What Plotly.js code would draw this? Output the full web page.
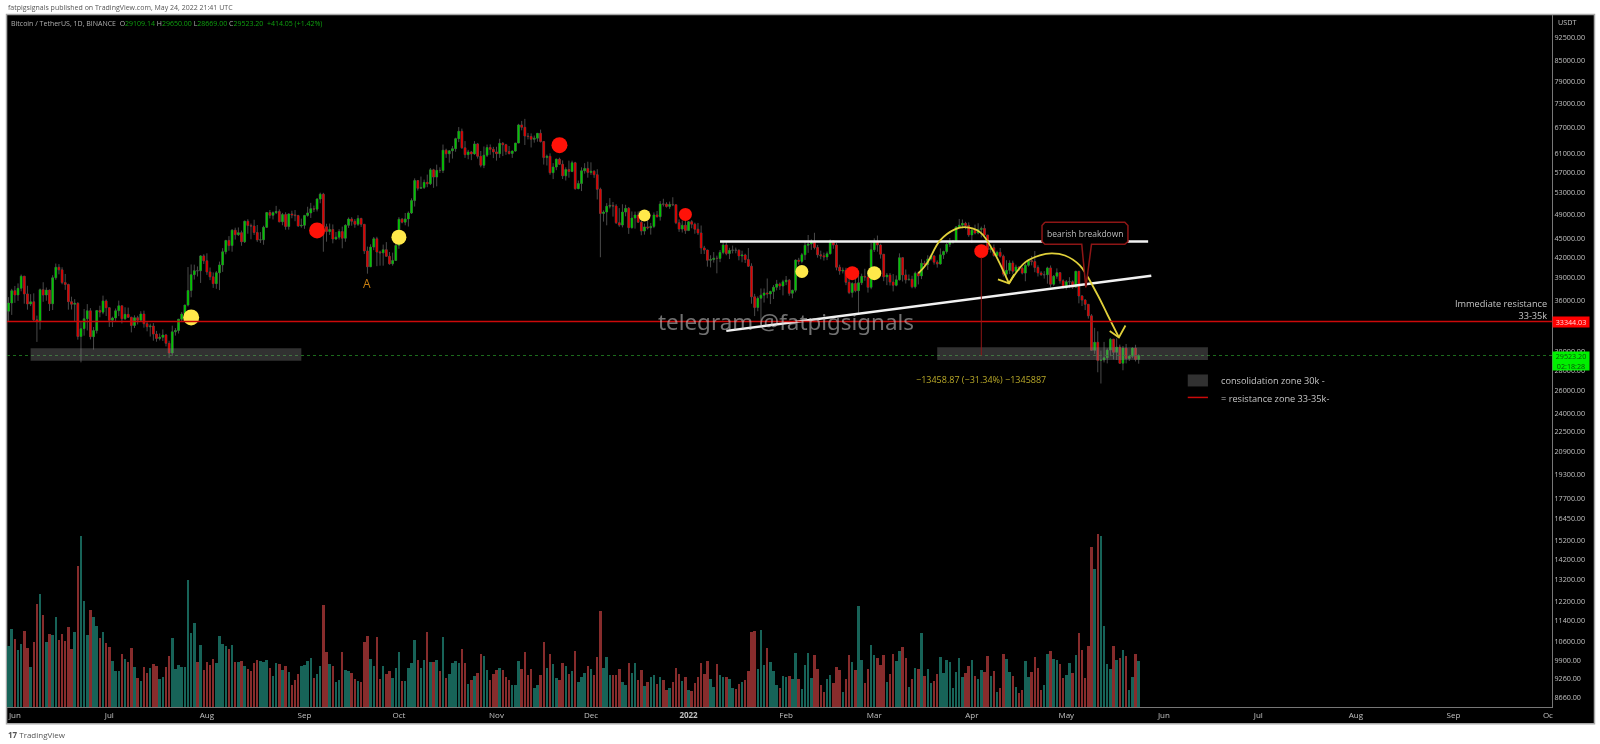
<!DOCTYPE html>
<html>
<head>
<meta charset="utf-8">
<script src="https://cdn.plot.ly/plotly-3.0.1.min.js"></script>
<style>
html,body{margin:0;padding:0;background:#fff;width:1600px;height:744px;overflow:hidden}
#chart{width:1600px;height:744px;filter:blur(0.45px)}
</style>
</head>
<body>
<div id="chart"></div>
<script>
// ---- daily candles, 2021-05-30 to 2022-05-24 ----
const firstDate = [2021, 4, 30];
const firstOpen = 34606;
const closes = [35641,37253,
 36693,37568,39246,36829,35513,35796,33552,33380,37388,36675,37331,35546,39020,40516,40144,38349,38092,35819,35483,35600,31608,32509,33678,34663,31584,32283,34700,34494,35911,35045,
 33504,33786,34669,35287,33690,34220,33863,32875,33815,33502,34259,33086,32729,32820,31880,31383,31520,31778,30839,29790,32144,32287,33634,34261,35381,37276,39457,40019,40016,42206,41461,
 39845,39147,38207,39723,40862,42836,44614,43792,46285,45543,45881,44400,47800,47068,46973,45901,44695,44705,46760,49322,48821,49292,49506,47706,48952,46894,49072,48895,48767,46991,47100,
 48810,49246,49999,49915,51756,52663,46863,46048,46395,44842,45143,46063,44963,47092,48176,47783,47267,48278,47260,42967,40588,43562,44883,42800,42670,43160,42147,41026,41523,43824,
 48141,47634,48200,49224,51471,55315,53785,53951,54949,54659,57471,55996,57367,57347,61672,60875,61528,62005,64280,66001,62193,60688,61286,60852,63078,60328,58413,60575,62253,61859,61299,
 60911,63219,62896,61395,60937,61470,63273,67525,66947,64882,64774,64122,64380,65519,63606,60058,60344,56891,58052,59707,58622,56247,57541,57138,58960,53726,54721,57274,57776,56950,
 57184,56480,53601,49152,49396,50441,50588,50471,47545,47140,49389,50053,46702,48343,48864,47632,46131,46834,46681,46914,48889,48588,50838,50820,50399,50775,50701,47543,46464,47120,46216,
 47722,47286,46446,45833,43431,43097,41546,41672,41864,41822,42729,43902,42560,43059,43084,43071,42201,42352,41660,40680,36445,35071,36244,36660,36958,36809,37160,37716,38166,37881,38466,
 38690,36896,37311,41574,41382,42380,43839,44042,44372,43495,42373,42217,42053,42535,44544,43873,40515,39974,40079,38386,37008,38230,37250,38327,39219,39116,37699,43160,
 44421,43892,42454,39148,39397,38420,37988,38730,41941,39422,38730,38807,37777,39671,39280,41114,40917,41757,42201,41262,41002,42364,42882,43991,44313,44511,46827,47122,47434,47067,45510,
 46283,45811,46407,46580,45497,43170,43444,42252,42753,42158,39530,40074,41147,39942,40551,40378,39678,40801,41494,41358,40480,39709,39441,39450,40426,38112,39235,39742,38596,37630,
 38468,38469,37716,39939,36549,36013,35472,34038,30074,30960,28996,29047,29283,30101,31305,29862,30425,28715,30319,29200,29432,30323,29109,29523.2];
const highs = [36400,37499,
 37894,38237,39476,39242,37917,36790,36900,34069,37534,38400,37680,37400,39380,41064,40978,40516,39559,38200,36457,36140,35750,33298,34881,35500,35000,32700,34749,35298,36600,36100,
 35036,33939,34945,35950,35293,35100,35059,33929,34100,34050,34600,34678,33341,33100,33168,32250,31950,32420,31900,31130,32858,32576,33650,34500,35398,40550,40928,40900,40640,42320,42448,
 42599,40480,39780,39969,41350,43392,44700,45310,46456,46700,46743,46216,47886,48144,47400,48053,47160,45970,47033,49382,49757,49500,50500,49875,49250,49352,49165,49632,49757,48900,48246,
 48843,50344,51051,50558,51900,52956,52920,47360,47400,47250,45980,46450,46877,47270,48450,48500,48170,48844,48380,47340,43639,44000,45169,45200,43000,43950,44350,42800,42700,44141,
 48500,48358,49228,49500,51886,55750,55332,56100,55489,56500,57840,57679,58550,58000,62933,62000,61700,62614,64486,67000,66639,63715,61747,61500,63710,63293,61496,62499,62927,62963,62405,
 62437,64242,63500,63086,62600,61600,63286,67789,68500,69000,65600,65500,65000,65500,66400,63500,60700,60976,58866,59845,60029,59450,58000,59400,59398,59150,55300,58000,58865,59176,
 59041,57399,57600,53913,49700,51000,51936,51200,50800,50100,50797,50700,50300,49500,49474,49500,48000,47400,48700,47500,49328,49576,51375,51810,51156,51280,52088,50704,48119,47900,48548,
 47827,47990,47550,47500,47070,43748,43145,42300,42786,42248,43100,44322,44500,43448,43800,43478,43200,43000,42534,43413,41100,36835,36500,37550,37548,38919,37234,38000,38720,38360,38744,
 39265,38855,37387,41688,41913,42656,44500,45492,44800,45855,43900,43000,42700,42876,44770,44600,44200,40900,40483,40444,39494,38400,39249,39843,39600,40300,39800,44225,
 44949,45400,44100,42500,39700,39700,39547,39350,42594,41900,40200,39486,39300,39900,39900,41700,41474,42300,42400,42300,41544,43360,43000,44220,45000,44700,46950,48189,48096,47700,47600,
 46720,47213,47444,46890,47200,45500,43900,43970,43000,43420,42400,41550,41550,41500,40900,40700,40600,41100,41700,42200,42950,40800,39960,39950,40600,40780,39400,40360,39400,38800,
 38700,39100,38650,40000,39850,36680,36150,35500,34250,32600,32200,30050,31000,30300,31450,31300,31400,30700,30550,30770,29600,30400,30680,29650];
const lows = [33379,34153,
 35666,35920,37170,35555,34800,35255,33300,31000,32400,35800,35936,34635,34757,38730,39506,38116,37365,34800,34820,33340,31251,28805,31700,32300,31275,30151,31950,33862,34232,34020,
 32711,32699,33316,34000,33125,33535,33781,32077,32578,33004,33306,32629,32200,31600,31133,31020,31162,31100,30500,29278,29482,31710,31950,33400,33800,35205,36383,38772,39200,38300,41000,
 39426,38690,37627,37508,37332,39853,42449,43000,42843,44750,45341,43770,44200,45700,44800,45500,44376,44208,43927,46650,48280,48100,49030,47600,47100,46361,46371,48300,47800,46853,46700,
 46512,48584,48363,49412,49500,50969,42843,44412,45500,44150,44722,44750,43370,44400,46670,47040,46700,47000,46829,42500,39600,40750,43080,40675,40750,40750,42120,40900,40750,41681,
 43293,47430,47100,46891,49056,50382,53357,53701,53650,54000,54416,53879,54167,56850,56818,60000,58963,59844,61322,63481,62000,60000,59700,59510,60650,59837,58000,57820,60174,60675,59945,
 59405,60000,60382,60650,60721,60000,61322,63300,66222,62822,64100,62278,63360,63576,63400,58574,58373,56474,55600,57400,58486,55610,55317,55875,57000,53500,53610,53256,56700,55875,
 56458,55842,51680,42000,47727,47100,50039,48600,47320,46850,46751,48650,45672,46550,46547,47511,45456,45550,46406,45558,46623,48421,47900,50397,50200,49970,50459,47300,46000,45900,45678,
 46208,46600,45700,45500,42500,42500,40610,40501,41200,39650,41268,42449,42300,41725,42583,42600,41540,41250,41138,40574,35551,34008,34600,32950,35700,36250,35507,36155,37300,37351,36632,
 38000,36586,36250,37034,40900,41100,41600,42666,43120,43200,41938,41700,41500,41570,42428,43300,40073,39450,39630,38000,36800,36350,37036,34322,38014,38600,37000,37450,
 42809,42850,41800,38550,38000,37950,37155,37850,38650,38500,38223,38660,37578,37550,38100,38828,40500,40139,41500,40900,40467,40900,41750,42560,43580,44100,44400,46600,46600,46444,45200,
 44200,45600,45600,45100,45380,43000,42700,42100,42100,41950,39200,39250,39550,39580,39900,40000,39500,38536,40600,40800,39800,39200,39300,38900,38200,37700,37900,38880,38200,37580,
 37400,37600,37500,37650,35600,35262,34750,33700,30033,29700,27800,26700,28800,28700,29450,29100,29050,28650,28000,28700,28950,29240,28900,28669];
// volume in thousands, same days
const volumes2021a = [61,78,68,57,63,76,59,40,65,103,113,92,65,73,72,90,67,73,66,80,58,75,141,171,106,72,97,90,81,69,75,64,60,46,36,36,53,48,45,59,40,29,26,40,34,39,43,41,28,30,40,51,69,38,42,40,40,127,74,84,45,62,37,45,42,48,44,71,63,61,58,62,45,45,46,41,38,36,44,47,46,45,47,39,31,44,43,37,41,35,22,27,33,41,42,46,49,29,33,41,102,55,43,41,25,27,55,37,36,34,28,26,25,65,71,48,41,70,28,41,33,36,29,39,55];
const volumes2021b = [26,26,39,44,67,47,39,47,75,45,45,47,36,70,29,33,44,46,44,58,44,23,27,31,34,53,51,37,27,33,37,39,37,30,27,22,22,46,38,55,32,38,19,22,32,65,39,53,43,29,27,44,41,33,36,56,25,30,34,41,38,32,50,96,39,50,32,32,32,38,25,22,44,34,44,27,37,21,25,30,32,23,30,27,17,19,25,39,33,26,30,17,16,24,30,44,33,46,28,20,43,32,30,30,28,19,18,23,25,27,36,75,76,38,77,42,59,45,36,22,19,31,30,31,28,54,28];
const volumes2022 = [18,42,54,29,52,38,22,15,28,32,24,40,37,15,28,52,45,37,101,47,24,38,62,52,49,42,52,25,33,53,46,56,60,49,20,28,39,38,74,31,38,24,26,33,50,34,47,45,19,35,49,30,34,41,47,31,28,37,35,51,31,36,15,19,53,48,35,31,20,14,17,46,30,35,50,39,17,22,53,56,48,47,43,29,32,44,34,52,74,57,29,61,160,138,173,171,81,43,38,61,47,49,57,51,17,30,53,46];
const volumes = volumes2021a.concat(volumes2021b, volumes2022);

const priceTicks = [92500,85000,79000,73000,67000,61000,57000,53000,49000,45000,42000,39000,36000,30000,28000,26000,24000,22500,20900,19300,17700,16450,15200,14200,13200,12200,11400,10600,9900,9260,8660];
const monthTicks = ["2021-06-01","2021-07-01","2021-08-01","2021-09-01","2021-10-01","2021-11-01","2021-12-01","2022-01-01","2022-02-01","2022-03-01","2022-04-01","2022-05-01","2022-06-01","2022-07-01","2022-08-01","2022-09-01","2022-10-01"];
const monthLabels = ["Jun","Jul","Aug","Sep","Oct","Nov","Dec","<b>2022</b>","Feb","Mar","Apr","May","Jun","Jul","Aug","Sep","Oc"];

// ---- drawings, in chart coordinates ----
const redDotDates = ["2021-09-05","2021-11-21","2021-12-31","2022-02-22","2022-04-04"];
const redDotPrices = [46240,62790,48970,39670,42930];
const redDotSizes = [16,16,13,14,14];
const yellowDotDates = ["2021-07-27","2021-10-01","2021-12-18","2022-02-06","2022-03-01"];
const yellowDotPrices = [33845,45140,48800,39910,39670];
const yellowDotSizes = [16,15,12,13,14];
const flatLineDates = ["2022-01-11","2022-05-27"], flatLinePrices = [44440,44440];
const riseLineDates = ["2022-01-13","2022-05-28"], riseLinePrices = [32250,39300];
const arcOneDates = ["2022-03-15","2022-03-17 17:00","2022-03-21 22:00","2022-03-26 14:00","2022-03-29 19:00","2022-04-03 14:00","2022-04-07 17:00","2022-04-12 19:00"];
const arcOnePrices = [39640,41080,44610,46410,46790,45960,43040,38240];
const headOneDates = ["2022-04-09 07:00","2022-04-12 19:00","2022-04-14 10:00"];
const headOnePrices = [38790,38240,39490];
const arcTwoDates = ["2022-04-12 19:00","2022-04-17 22:00","2022-04-22 14:00","2022-04-26 07:00","2022-04-30 14:00","2022-05-05 07:00","2022-05-10 17:00","2022-05-14 05:00","2022-05-17 17:00"];
const arcTwoPrices = [38240,41230,42270,42580,42270,40790,36880,34080,31500];
const headTwoDates = ["2022-05-14 19:00","2022-05-17 17:00","2022-05-19 19:00"];
const headTwoPrices = [32230,31500,32880];
const calloutDates = ["2022-04-24 05:00","2022-05-19 14:00","2022-05-20 14:00","2022-05-20 14:00","2022-05-19 14:00","2022-05-09 00:00","2022-05-07 05:00","2022-05-05 22:00","2022-04-24 05:00","2022-04-23 07:00","2022-04-23 07:00","2022-04-24 05:00"];
const calloutPrices = [47640,47640,47080,44450,43990,43990,37700,43990,43990,44450,47080,47640];
const resistancePrice = 33344.03, lastPrice = 29523.2;

if (closes.length!==360||highs.length!==360||lows.length!==360||volumes.length!==360)
  throw new Error("len "+[closes.length,highs.length,lows.length,volumes2021a.length,volumes2021b.length,volumes2022.length]);

const dates = closes.map((_,i)=>new Date(Date.UTC(firstDate[0],firstDate[1],firstDate[2]+i)).toISOString().slice(0,10));
const opens = closes.map((_,i)=> i? closes[i-1] : firstOpen);
const DAY = 86400000;
const L10 = Math.log10;

const wick = '#4a4a4a', up = '#00c400', dn = '#dc0000';
const drawn = (x,y,extra)=>Object.assign({type:'scatter',mode:'lines',x,y,hoverinfo:'skip',showlegend:false},extra);

const traces = [
 {type:'candlestick',x:dates,open:opens,high:highs,low:lows,close:closes,hoverinfo:'skip',showlegend:false,
  whiskerwidth:0,increasing:{line:{color:wick,width:1},fillcolor:wick},decreasing:{line:{color:wick,width:1},fillcolor:wick}},
 {type:'candlestick',x:dates,open:opens,close:closes,
  high:opens.map((o,i)=>Math.max(o,closes[i])),low:opens.map((o,i)=>Math.min(o,closes[i])),
  hoverinfo:'skip',showlegend:false,whiskerwidth:0,
  increasing:{line:{color:up,width:0},fillcolor:up},decreasing:{line:{color:dn,width:0},fillcolor:dn}},
 drawn(flatLineDates,flatLinePrices,{line:{color:'#f2f2f2',width:2.5}}),
 drawn(riseLineDates,riseLinePrices,{line:{color:'#f2f2f2',width:2.5}}),
 drawn(arcOneDates,arcOnePrices,{line:{color:'#e0d03a',width:1.8,shape:'spline'}}),
 drawn(headOneDates,headOnePrices,{line:{color:'#e0d03a',width:1.8}}),
 drawn(arcTwoDates,arcTwoPrices,{line:{color:'#e0d03a',width:1.8,shape:'spline'}}),
 drawn(headTwoDates,headTwoPrices,{line:{color:'#e0d03a',width:1.8}}),
 drawn(calloutDates,calloutPrices,{line:{color:'#8e1616',width:1.5},fill:'toself',fillcolor:'#000'}),
 {type:'scatter',mode:'markers',x:redDotDates,y:redDotPrices,hoverinfo:'skip',showlegend:false,marker:{color:'#ff1208',opacity:1,size:redDotSizes,line:{width:0}}},
 {type:'scatter',mode:'markers',x:yellowDotDates,y:yellowDotPrices,hoverinfo:'skip',showlegend:false,marker:{color:'#ffe84a',opacity:1,size:yellowDotSizes,line:{width:0}}},
 {type:'bar',x:dates,y:volumes,yaxis:'y2',width:DAY*0.78,hoverinfo:'skip',showlegend:false,
  marker:{color:closes.map((c,i)=>c>=opens[i]?'#176358':'#872c2c'),line:{width:0}}}
];

const axisFont = {family:'"Open Sans","Noto Sans",sans-serif',size:7.2,color:'#c0c0c0'};
const monthFont = {family:'"Open Sans","Noto Sans",sans-serif',size:8,color:'#c0c0c0'};
const greyFont = {family:'"Open Sans","Noto Sans",sans-serif',size:9.2,color:'#c4c4c4'};
const smallFont = (color)=>({family:'"Open Sans",sans-serif',size:7,color});
const note = (x,price,text,opts)=>Object.assign({xref:'x',yref:'y',x,y:L10(price),text,showarrow:false},opts);
const pnote = (x,y,text,opts)=>Object.assign({xref:'paper',yref:'paper',x,y,text,showarrow:false,xanchor:'left',yanchor:'middle'},opts);

const layout = {
 width:1600,height:744,margin:{l:7,r:47.5,t:14.5,b:37.3,pad:0},
 paper_bgcolor:'#fff',plot_bgcolor:'#000',showlegend:false,hovermode:false,dragmode:false,bargap:0,boxgap:0.2,
 xaxis:{type:'date',range:["2021-05-29 12:00","2022-10-02 07:00"],tickmode:'array',tickvals:monthTicks,ticktext:monthLabels,
  tickfont:monthFont,ticks:'',showgrid:false,zeroline:false,showline:true,linecolor:'#777',linewidth:1,rangeslider:{visible:false},fixedrange:true},
 yaxis:{type:'log',side:'right',range:[L10(8365),L10(100170)],tickmode:'array',tickvals:priceTicks,
  ticktext:priceTicks.map(v=>v.toFixed(2)),tickfont:axisFont,ticks:'',showgrid:false,zeroline:false,showline:true,linecolor:'#777',linewidth:1,fixedrange:true},
 yaxis2:{overlaying:'y',side:'left',range:[0,692.2],visible:false,fixedrange:true},
 shapes:[
  {type:'rect',xref:'paper',yref:'paper',x0:-0.0003,x1:1.0275,y0:-0.0243,y1:1.0007,layer:'below',fillcolor:'#000',line:{color:'#a8a8a8',width:1.5}},
  {type:'line',xref:'paper',yref:'y',x0:0,x1:1,y0:lastPrice,y1:lastPrice,layer:'above',line:{color:'#1c6b1c',width:1,dash:'dot'}},
  {type:'line',xref:'paper',yref:'y',x0:0,x1:1,y0:resistancePrice,y1:resistancePrice,layer:'above',line:{color:'#cc0a0a',width:1.5}},
  {type:'rect',xref:'x',yref:'y',x0:"2021-06-06",x1:"2021-08-31",y0:28980,y1:30300,layer:'above',fillcolor:'rgba(130,130,130,0.38)',line:{width:0}},
  {type:'rect',xref:'x',yref:'y',x0:"2022-03-21",x1:"2022-06-15",y0:29050,y1:30400,layer:'above',fillcolor:'rgba(130,130,130,0.38)',line:{width:0}},
  {type:'rect',xref:'x',yref:'y',x0:"2022-06-08 14:00",x1:"2022-06-15",y0:26420,y1:27580,layer:'above',fillcolor:'rgba(130,130,130,0.38)',line:{width:0}},
  {type:'line',xref:'x',yref:'y',x0:"2022-06-08 14:00",x1:"2022-06-15",y0:25400,y1:25400,layer:'above',line:{color:'#cc0a0a',width:1.5}},
  {type:'line',xref:'x',yref:'y',x0:"2022-04-04",x1:"2022-04-04",y0:42000,y1:29530,layer:'above',line:{color:'#8e1616',width:1}}
 ],
 annotations:[
  pnote(-0.0008,1.0108,'fatpigsignals published on TradingView.com, May 24, 2022 21:41 UTC',{font:smallFont('#555')}),
  pnote(0.0015,0.9875,'<span style="color:#b0b0b0">Bitcoin / TetherUS, 1D, BINANCE &nbsp;O</span>29109.14 <span style="color:#b0b0b0">H</span>29650.00 <span style="color:#b0b0b0">L</span>28669.00 <span style="color:#b0b0b0">C</span>29523.20 &nbsp;+414.05 (+1.42%)',{font:smallFont('#0fa00f')}),
  pnote(-0.0005,-0.0394,'<b>17</b> TradingView',{font:{family:'"Open Sans",sans-serif',size:8,color:'#555'}}),
  pnote(1.0026,0.9892,'USDT',{font:axisFont}),
  note("2021-09-21",38240,'A',{font:{family:'"Open Sans",sans-serif',size:12,color:'#c97f10'}}),
  note("2022-05-07",45800,'bearish breakdown',{font:{family:'"Open Sans",sans-serif',size:8.5,color:'#bdbdbd'}}),
  note("2022-04-04",27100,'\u221213458.87 (\u221231.34%) \u22121345887',{font:{family:'"Open Sans",sans-serif',size:9,color:'#b8a828'}}),
  note("2022-02-01",33340,'telegram @fatpigsignals',{xanchor:'center',font:{family:'"Noto Sans",sans-serif',size:22.4,color:'rgba(205,205,205,0.55)'}}),
  pnote(0.9982,0.5738,'Immediate resistance<br>33-35k',{xanchor:'right',align:'right',font:greyFont}),
  note("2022-06-18 14:00",27000,'consolidation zone 30k -',{xanchor:'left',font:greyFont}),
  note("2022-06-18 14:00",25300,'= resistance zone 33-35k-',{xanchor:'left',font:greyFont}),
  {xref:'paper',yref:'y',x:1,y:L10(resistancePrice),xanchor:'left',text:'33344.03',showarrow:false,bgcolor:'#ff0000',width:36,height:10,borderpad:0,font:{family:axisFont.family,size:7.2,color:'#ffd8d8'}},
  {xref:'paper',yref:'y',x:1,y:L10(30000),yanchor:'top',xanchor:'left',text:'29523.20<br>02:18:28',align:'center',showarrow:false,bgcolor:'#00f000',width:36,height:18,borderpad:0,font:{family:axisFont.family,size:7.2,color:'#0b4d0b'}}
 ]
};

Plotly.newPlot('chart',traces,layout,{staticPlot:true,displayModeBar:false});
</script>
</body>
</html>
